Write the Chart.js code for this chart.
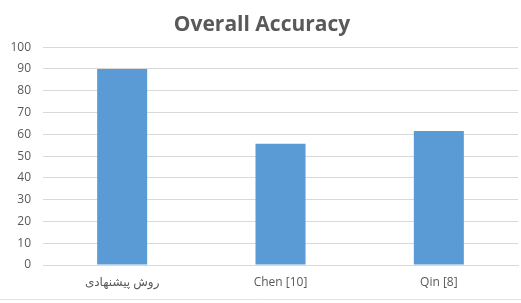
<!DOCTYPE html>
<html>
<head>
<meta charset="utf-8">
<script src="https://cdn.jsdelivr.net/npm/chart.js@4.4.1/dist/chart.umd.min.js"></script>
<style>
  html, body { margin: 0; padding: 0; background: #fff; }
  #wrap { width: 521px; height: 303px; position: relative; }
</style>
</head>
<body>
<div id="wrap"><canvas id="accChart" width="521" height="303"></canvas></div>
<script>
const methods = ['روش پیشنهادی', 'Chen [10]', 'Qin [8]'];
const accuracy = [90, 55.7, 61.5];
const yTicks = [0, 10, 20, 30, 40, 50, 60, 70, 80, 90, 100];

const gray = '#595959';
const gridGray = '#d9d9d9';

new Chart(document.getElementById('accChart'), {
  type: 'bar',
  data: {
    labels: methods,
    datasets: [{
      label: 'Overall Accuracy',
      data: accuracy,
      backgroundColor: '#5b9bd5',
      borderWidth: 0,
      categoryPercentage: 1,
      barPercentage: 0.316
    }]
  },
  options: {
    responsive: false,
    animation: false,
    layout: { padding: { left: 6, right: 3, top: 12, bottom: 0 } },
    plugins: {
      legend: { display: false },
      tooltip: { enabled: false },
      title: {
        display: true,
        text: 'Overall Accuracy',
        color: gray,
        font: { family: "'Open Sans', 'Liberation Sans', sans-serif", size: 21, weight: 'bold' },
        padding: { top: 0, bottom: 10 }
      }
    },
    scales: {
      x: {
        grid: { display: false, drawTicks: false },
        border: { display: true, color: gridGray, width: 1 },
        ticks: {
          color: gray,
          padding: 10,
          font: { family: "'Open Sans', 'DejaVu Sans', sans-serif", size: 12 }
        },
        afterFit(scale) { scale.height = 38; }
      },
      y: {
        min: 0,
        max: 100,
        afterBuildTicks(scale) { scale.ticks = yTicks.map(v => ({ value: v })); },
        grid: { color: gridGray, drawTicks: false },
        border: { display: false },
        ticks: {
          color: gray,
          padding: 12,
          font: { family: "'Open Sans', 'DejaVu Sans', sans-serif", size: 12 }
        },
        afterFit(scale) { scale.width = 37; }
      }
    }
  },
  plugins: [{
    id: 'bottomRule',
    afterDraw(chart) {
      const { ctx } = chart;
      ctx.save();
      ctx.strokeStyle = '#e3e3e3';
      ctx.lineWidth = 1;
      ctx.beginPath();
      ctx.moveTo(0, chart.height - 3.5);
      ctx.lineTo(chart.width, chart.height - 3.5);
      ctx.stroke();
      ctx.restore();
    }
  }]
});
</script>
</body>
</html>
